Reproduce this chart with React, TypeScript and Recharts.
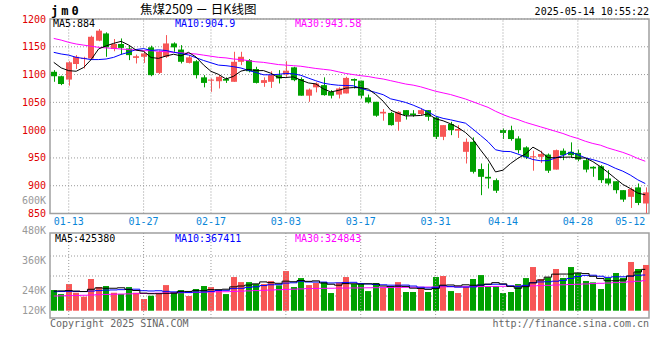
import React from 'react';
import {
  ComposedChart, Bar, Line, XAxis, YAxis, CartesianGrid, ReferenceLine, ReferenceArea,
} from 'recharts';

// 交易日
const dates = [
  '01-09', '01-10', '01-13', '01-14', '01-15', '01-16', '01-17', '01-20', '01-21', '01-22', '01-23', '01-24', '01-27',
  '02-05', '02-06', '02-07', '02-10', '02-11', '02-12', '02-13', '02-14', '02-17', '02-18', '02-19', '02-20', '02-21',
  '02-24', '02-25', '02-26', '02-27', '02-28',
  '03-03', '03-04', '03-05', '03-06', '03-07', '03-10', '03-11', '03-12', '03-13', '03-14', '03-17', '03-18', '03-19',
  '03-20', '03-21', '03-24', '03-25', '03-26', '03-27', '03-28', '03-31',
  '04-01', '04-02', '04-03', '04-07', '04-08', '04-09', '04-10', '04-11', '04-14', '04-15', '04-16', '04-17', '04-18',
  '04-21', '04-22', '04-23', '04-24', '04-25', '04-28', '04-29', '04-30',
  '05-06', '05-07', '05-08', '05-09', '05-12', '05-13', '05-14',
];

const opens = [
  1105, 1097, 1091, 1119, 1129, 1129, 1161, 1174, 1146, 1155, 1147, 1130, 1132, 1149, 1103, 1132, 1156, 1145, 1121, 1124,
  1095, 1089, 1088, 1092, 1087, 1123, 1126, 1110, 1085, 1087, 1099, 1100, 1113, 1092, 1062, 1077, 1081, 1069, 1064, 1066,
  1092, 1089, 1059, 1051, 1030, 1031, 1015, 1036, 1030, 1029, 1036, 1023, 988, 1011, 999, 961, 979, 930, 916, 910,
  1000, 1000, 985, 969, 951, 952, 956, 929, 963, 961, 959, 946, 934, 935, 913, 908, 892, 880, 897, 868,
];
const highs = [
  1108, 1098, 1124, 1135, 1132, 1170, 1182, 1176, 1164, 1165, 1152, 1136, 1142, 1152, 1143, 1171, 1158, 1153, 1134, 1126,
  1099, 1093, 1099, 1095, 1141, 1141, 1128, 1114, 1095, 1106, 1108, 1124, 1114, 1095, 1075, 1086, 1095, 1072, 1077, 1096,
  1093, 1089, 1064, 1051, 1038, 1033, 1034, 1036, 1036, 1039, 1036, 1025, 1009, 1015, 1009, 985, 987, 940, 940, 913,
  1003, 1008, 989, 971, 963, 963, 958, 965, 967, 978, 965, 949, 935, 937, 928, 908, 892, 897, 904, 897,
];
const lows = [
  1087, 1081, 1080, 1110, 1111, 1127, 1160, 1132, 1142, 1136, 1126, 1120, 1121, 1097, 1101, 1130, 1141, 1120, 1120, 1093,
  1077, 1069, 1075, 1085, 1087, 1117, 1104, 1084, 1078, 1076, 1084, 1096, 1088, 1062, 1051, 1068, 1062, 1057, 1057, 1066,
  1075, 1057, 1048, 1024, 1017, 1008, 999, 1019, 1024, 1027, 1017, 984, 982, 991, 986, 940, 922, 883, 895, 887,
  984, 981, 958, 948, 927, 941, 923, 929, 946, 950, 944, 924, 916, 905, 901, 886, 871, 860, 865, 850,
];
const closes = [
  1097, 1083, 1122, 1132, 1130, 1168, 1179, 1149, 1155, 1148, 1135, 1133, 1138, 1099, 1141, 1156, 1149, 1123, 1131, 1099,
  1085, 1091, 1096, 1089, 1123, 1132, 1106, 1085, 1090, 1099, 1093, 1107, 1090, 1062, 1073, 1084, 1063, 1062, 1075, 1094,
  1089, 1062, 1050, 1026, 1033, 1009, 1033, 1027, 1027, 1036, 1024, 988, 1009, 1000, 1002, 979, 925, 916, 913, 891,
  995, 984, 964, 951, 953, 957, 927, 964, 955, 955, 947, 929, 931, 910, 904, 892, 875, 894, 869, 888,
];

// 均线
const ma5 = [
  1122, 1112, 1107, 1106, 1112.8, 1127, 1146.2, 1151.6, 1156.2, 1159.8, 1153.2, 1144, 1141.8, 1130.6, 1129.2, 1133.4,
  1136.6, 1133.6, 1140, 1131.6, 1117.4, 1105.8, 1100.4, 1092, 1096.8, 1106.2, 1109.2, 1107, 1107.2, 1102.4, 1094.6,
  1094.8, 1095.8, 1090.2, 1085, 1083.2, 1074.4, 1068.8, 1071.4, 1075.6, 1076.6, 1076.4, 1074, 1064.2, 1052, 1036,
  1030.2, 1025.6, 1025.8, 1026.4, 1029.4, 1020.4, 1016.8, 1011.4, 1004.6, 995.6, 983, 964.4, 947, 924.8, 928, 939.8,
  949.4, 957, 969.4, 961.8, 950.4, 950.4, 951.2, 951.6, 949.6, 950, 943.4, 934.4, 924.2, 913.2, 902.4, 895, 886.8, 883.6,
];
const ma10 = [
  1140, 1137, 1135, 1131, 1129, 1127, 1127, 1128, 1131, 1136.3, 1140.1, 1145.1, 1146.7, 1143.4, 1144.5, 1143.3, 1140.3,
  1137.7, 1135.3, 1130.4, 1125.4, 1121.2, 1117, 1116, 1114.2, 1111.8, 1107.5, 1103.7, 1099.6, 1099.6, 1100.4, 1102,
  1101.4, 1098.7, 1093.7, 1088.9, 1084.6, 1082.3, 1080.8, 1080.3, 1079.9, 1075.4, 1071.4, 1067.8, 1063.8, 1056.3,
  1053.3, 1049.8, 1045, 1039.2, 1032.7, 1025.3, 1021.2, 1018.6, 1015.5, 1012.5, 1001.7, 990.6, 979.2, 964.7, 961.8,
  961.4, 956.9, 952, 947.1, 944.9, 945.1, 949.9, 954.1, 960.5, 955.7, 950.2, 946.9, 942.8, 937.9, 931.4, 926.2, 919.2,
  910.6, 903.9,
];
const ma30 = [
  1165, 1162, 1158, 1155, 1153, 1151, 1149, 1148, 1147, 1146, 1145, 1144, 1143, 1143, 1142, 1141, 1140, 1139, 1138, 1137,
  1135, 1133, 1131, 1130, 1128, 1127, 1125, 1123, 1122, 1120, 1118, 1117, 1116, 1115, 1113, 1111, 1109.5, 1108, 1105, 1102,
  1100, 1098, 1096.5, 1094, 1092, 1089, 1086, 1083, 1081, 1078, 1074, 1070, 1067, 1064, 1060, 1056, 1051, 1046, 1041, 1034,
  1028, 1023, 1019, 1014, 1010, 1006, 1002, 998, 994, 989, 985, 980, 976, 973, 968, 964, 960, 955, 949, 944,
];

// 成交量 (千手)
const volK = [
  221, 178, 285, 192, 150, 339, 253, 264, 192, 178, 253, 192, 125, 160, 178, 274, 200, 221, 157, 232,
  264, 253, 221, 178, 360, 306, 306, 285, 285, 317, 271, 424, 253, 349, 274, 296, 306, 189, 300, 360,
  285, 285, 210, 296, 246, 253, 306, 200, 200, 232, 200, 360, 371, 210, 189, 253, 339, 381, 264, 264,
  189, 200, 285, 349, 467, 339, 356, 446, 350, 467, 403, 318, 303, 232, 350, 403, 350, 521, 446, 489,
];
const volMa5 = [
  210, 212, 215, 210, 205, 229, 244, 240, 240, 245, 228, 216, 188, 182, 182, 186, 187, 207, 206, 217,
  215, 225, 225, 230, 255, 264, 274, 287, 308, 300, 293, 316, 310, 323, 314, 319, 296, 283, 273, 290,
  288, 284, 288, 287, 264, 258, 262, 260, 241, 238, 228, 238, 273, 275, 266, 277, 272, 274, 285, 300,
  287, 260, 240, 257, 298, 328, 359, 391, 392, 392, 404, 397, 368, 345, 321, 321, 328, 371, 414, 442,
];
const volMa10 = [
  203, 205, 207, 206, 205, 210, 215, 220, 222, 225, 228.5, 230, 214, 211, 213.5, 207, 201.5, 197.5, 194, 199.5,
  200.5, 206, 216, 218, 236, 239.5, 249.5, 256, 269, 277.5, 278.5, 295, 298.5, 315.5, 307, 306, 306, 296.5, 298, 302,
  303.5, 290, 285.5, 280, 277, 273, 273, 274, 264, 251, 243, 250, 266.5, 258, 252, 252.5, 255, 273.5, 280, 283,
  282, 266, 257, 271, 299, 307.5, 309.5, 315.5, 324.5, 345, 366, 378, 379.5, 368.5, 356.5, 362.5, 362.5, 369.5, 379.5, 381.5,
];
const volMa30 = [
  157, 159, 161, 163, 165, 168, 171, 174, 176, 178, 180, 182, 184, 186, 188, 190, 191, 192, 194, 196,
  198, 200, 202, 203, 206, 209, 212, 215, 218, 221, 224, 227, 230, 233, 236, 238, 239, 240, 241, 242,
  243, 244, 245, 246, 247, 248, 249, 250, 251, 252, 253, 254, 255, 256, 256, 257, 257, 258, 259, 260,
  261, 262, 263, 264, 266, 268, 271, 274, 277, 280, 283, 286, 290, 293, 296, 300, 304, 309, 315, 321,
];

const priceTicks = [850, 900, 950, 1000, 1050, 1100, 1150, 1200];
const dateTicks = ['01-13', '01-27', '02-17', '03-03', '03-17', '03-31', '04-14', '04-28', '05-12'];
const gridDates = dateTicks.slice(0, -1); // 05-12 只有标签，没有竖线
const volLabelTicks = [120, 240, 360, 480, 600];

const RED = '#f75656';
const GREEN = '#00a000';
const GRID = '#9a9a9a';
const BORDER = '#a0a0a0';
const MONO = "'DejaVu Sans Mono', monospace";

const rows = dates.map((date, i) => ({
  date,
  open: opens[i], high: highs[i], low: lows[i], close: closes[i],
  ma5: ma5[i], ma10: ma10[i], ma30: ma30[i],
  vol: volK[i], vma5: volMa5[i], vma10: volMa10[i], vma30: volMa30[i],
}));

// K线：柱子画 [low, high]，实体按比例放进去
const Candle = (props: any) => {
  const { x, y, width, height, payload } = props;
  if (!payload) return null;
  const { open, close, high, low } = payload;
  const color = close >= open ? RED : GREEN;
  const span = high - low || 1;
  const py = (v: number) => y + ((high - v) / span) * height;
  const top = py(Math.max(open, close));
  const bottom = py(Math.min(open, close));
  const bx = Math.round(x);
  const cx = bx + Math.floor(width / 2) + 0.5;
  return (
    <g>
      <line x1={cx} x2={cx} y1={y} y2={y + height} stroke={color} strokeWidth={1} />
      <rect x={bx} y={top} width={width} height={Math.max(bottom - top, 1)} fill={color} />
    </g>
  );
};

const VolBar = (props: any) => {
  const { x, y, width, height, payload } = props;
  if (!payload) return null;
  const color = payload.close >= payload.open ? RED : GREEN;
  return <rect x={Math.round(x)} y={y} width={width} height={height} fill={color} />;
};

// 成交量左侧标签（最底下的 120K 贴着框底）
const VolTick = (props: any) => {
  const { x, y, payload } = props;
  return (
    <text x={x} y={Math.min(y, 120)} dy="0.355em" textAnchor="end" fill="#999" fontSize={10} fontFamily={MONO}>
      {payload.value}K
    </text>
  );
};

const Txt = ({ x, y, children, color = '#000', size = 10, right = false, bold = false, family = MONO, spacing = 0 }: any) => (
  <div
    style={{
      position: 'absolute',
      top: y - size / 2,
      ...(right ? { right: 660 - x } : { left: x }),
      fontSize: size,
      lineHeight: `${size}px`,
      color,
      fontFamily: family,
      fontWeight: bold ? 'bold' : 'normal',
      letterSpacing: spacing,
      whiteSpace: 'pre',
    }}
  >
    {children}
  </div>
);

export default function App() {
  return (
    <div style={{ position: 'absolute', left: 0, top: 0, width: 660, height: 360, background: '#fff', overflow: 'hidden' }}>
      {/* 日K */}
      <div style={{ position: 'absolute', left: 0, top: 0 }}>
        <ComposedChart width={660} height={231} data={rows} margin={{ top: 19, right: 11, bottom: 0, left: 0 }}>
          <CartesianGrid vertical={false} stroke={GRID} strokeDasharray="1 2" />
          {gridDates.map((d) => (
            <ReferenceLine key={d} x={d} stroke={GRID} strokeDasharray="1 2" />
          ))}
          <XAxis
            dataKey="date"
            ticks={dateTicks}
            interval={0}
            height={17.5}
            axisLine={false}
            tickLine={false}
            tickSize={2}
            tickMargin={2}
            tick={{ fill: '#0a86d8', fontSize: 10, fontFamily: MONO }}
          />
          <YAxis
            domain={[850, 1200]}
            ticks={priceTicks}
            interval={0}
            allowDataOverflow
            width={50}
            axisLine={false}
            tickLine={false}
            tickSize={2}
            tickMargin={2}
            tick={{ fill: '#e00000', fontSize: 10, fontFamily: MONO }}
          />
          <ReferenceArea y1={850} y2={1200} fill="none" stroke={BORDER} strokeWidth={1.5} />
          <Bar dataKey={(d: any) => [d.low, d.high]} barSize={6} shape={<Candle />} isAnimationActive={false} />
          <Line dataKey="ma30" stroke="#ff00ff" strokeWidth={1} dot={false} isAnimationActive={false} />
          <Line dataKey="ma10" stroke="#0000ff" strokeWidth={1} dot={false} isAnimationActive={false} />
          <Line dataKey="ma5" stroke="#000" strokeWidth={1} dot={false} isAnimationActive={false} />
        </ComposedChart>
      </div>

      {/* 成交量 */}
      <div style={{ position: 'absolute', left: 0, top: 190 }}>
        <ComposedChart width={660} height={145} data={rows} margin={{ top: 43, right: 11, bottom: 17, left: 0 }}>
          <CartesianGrid vertical={false} horizontalPoints={[66, 86, 106]} stroke={GRID} strokeDasharray="1 2" />
          <XAxis dataKey="date" hide />
          <YAxis yAxisId="vol" domain={[-78, 831]} allowDataOverflow hide />
          <YAxis
            yAxisId="lbl"
            domain={[128, 468]}
            ticks={volLabelTicks}
            interval={0}
            allowDataOverflow
            width={50}
            axisLine={false}
            tickLine={false}
            tickSize={2}
            tickMargin={2}
            tick={<VolTick />}
          />
          {gridDates.map((d) => (
            <ReferenceLine key={d} x={d} yAxisId="vol" stroke={GRID} strokeDasharray="1 2" />
          ))}
          <ReferenceArea yAxisId="vol" y1={-78} y2={831} fill="none" stroke={BORDER} strokeWidth={1.5} />
          <Bar yAxisId="vol" dataKey="vol" barSize={6} shape={<VolBar />} isAnimationActive={false} />
          <Line yAxisId="vol" type="step" dataKey="vma30" stroke="#ff00ff" strokeWidth={1} dot={false} isAnimationActive={false} />
          <Line yAxisId="vol" type="step" dataKey="vma10" stroke="#0000ff" strokeWidth={1} dot={false} isAnimationActive={false} />
          <Line yAxisId="vol" type="step" dataKey="vma5" stroke="#000" strokeWidth={1} dot={false} isAnimationActive={false} />
        </ComposedChart>
      </div>

      {/* 文字 */}
      <Txt x={51} y={10.5} size={12} bold spacing={3}>jm0</Txt>
      <Txt x={140} y={9.5} size={12.5} family="'Noto Sans CJK SC', sans-serif">焦煤2509 － 日K线图</Txt>
      <Txt x={649} y={12} right>2025-05-14 10:55:22</Txt>
      <Txt x={53} y={24}>MA5:884</Txt>
      <Txt x={175} y={24} color="#0000ff">MA10:904.9</Txt>
      <Txt x={295} y={24} color="#ff00ff">MA30:943.58</Txt>
      <Txt x={55} y={238.5}>MA5:425380</Txt>
      <Txt x={175} y={238.5} color="#0000ff">MA10:367411</Txt>
      <Txt x={295} y={238.5} color="#ff00ff">MA30:324843</Txt>
      <Txt x={50} y={324} color="#666">Copyright 2025 SINA.COM</Txt>
      <Txt x={649} y={324} color="#666" right>http://finance.sina.com.cn</Txt>
    </div>
  );
}
